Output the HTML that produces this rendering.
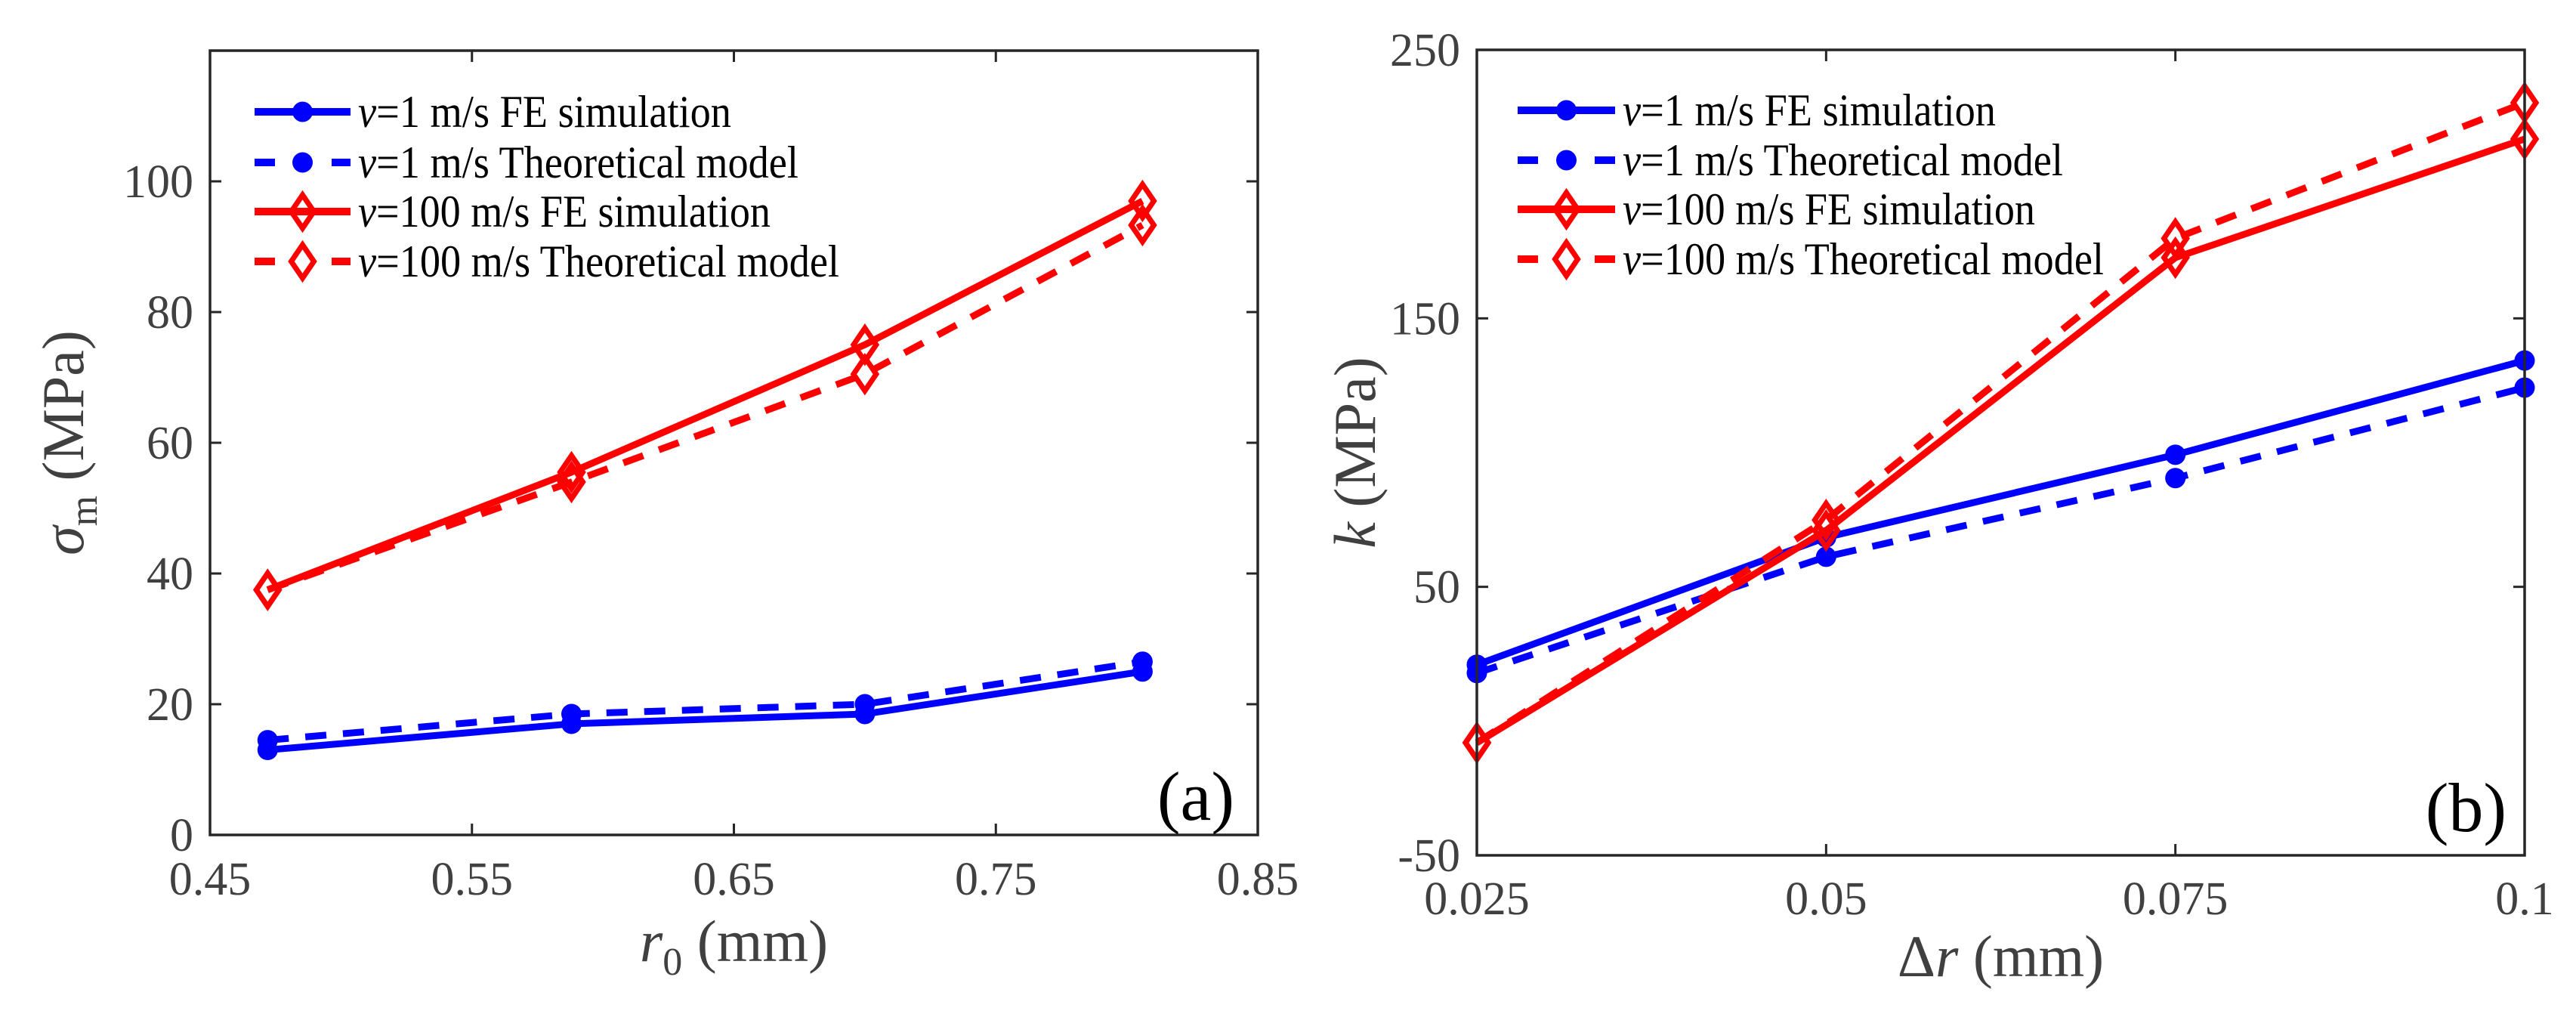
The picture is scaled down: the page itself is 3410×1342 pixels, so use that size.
<!DOCTYPE html>
<html><head><meta charset="utf-8"><style>
html,body{margin:0;padding:0;background:#fff;}
svg{display:block;font-family:"Liberation Serif",serif;}
</style></head><body>
<svg id="fig" width="3410" height="1342" viewBox="0 0 3410 1342" xmlns="http://www.w3.org/2000/svg"></svg>
<script>
// Panel (a) data
const aX = [0.472, 0.588, 0.7, 0.806];
const aBlueFE = [13, 17, 18.5, 25];
const aBlueTh = [14.5, 18.5, 20, 26.5];
const aRedFE = [37.5, 55.5, 75, 97];
const aRedTh = [37.5, 54, 70.5, 93.3];
const aXTicks = [0.45, 0.55, 0.65, 0.75, 0.85];
const aXTickLabels = ["0.45", "0.55", "0.65", "0.75", "0.85"];
const aYTicks = [0, 20, 40, 60, 80, 100];
const aYTickLabels = ["0", "20", "40", "60", "80", "100"];
// Panel (b) data
const bX = [0.025, 0.05, 0.075, 0.1];
const bBlueFE = [21, 68.4, 99.2, 134.3];
const bBlueTh = [17.9, 61.2, 90.5, 124.2];
const bRedFE = [-8.1, 71, 172.6, 216.8];
const bRedTh = [-8, 74.9, 179.8, 230.3];
const bXTicks = [0.025, 0.05, 0.075, 0.1];
const bXTickLabels = ["0.025", "0.05", "0.075", "0.1"];
const bYTicks = [-50, 50, 150, 250];
const bYTickLabels = ["-50", "50", "150", "250"];
const legendLabels = ["=1 m/s FE simulation", "=1 m/s Theoretical model", "=100 m/s FE simulation", "=100 m/s Theoretical model"];
const legendWidths = [494, 583, 546, 637];

const NS = "http://www.w3.org/2000/svg";
const svg = document.getElementById("fig");
function el(tag, attrs, parent) {
  const e = document.createElementNS(NS, tag);
  for (const k in attrs) e.setAttribute(k, attrs[k]);
  (parent || svg).appendChild(e);
  return e;
}

function marker(g, type, cx, cy, color) {
  let m;
  if (type === "circle") {
    m = el("circle", {cx: cx, cy: cy, r: 13.5, fill: color}, g);
  } else {
    m = el("polygon", {points: `${cx},${cy-22} ${cx+15},${cy} ${cx},${cy+22} ${cx-15},${cy}`, fill: "none", stroke: color, "stroke-width": 7}, g);
  }
  return m;
}

function panel(cfg) {
  const {L, R, T, B, xmin, xmax, ymin, ymax, name} = cfg;
  const sx = v => L + (v - xmin) / (xmax - xmin) * (R - L);
  const sy = v => B - (v - ymin) / (ymax - ymin) * (B - T);
  const g = el("g", {});
  
  
  cfg.xTicks.forEach((t, i) => {
    const x = sx(t);
    el("line", {x1: x, y1: B, x2: x, y2: B - 15, stroke: "#262626", "stroke-width": 3}, g);
    el("line", {x1: x, y1: T, x2: x, y2: T + 15, stroke: "#262626", "stroke-width": 3}, g);
    const tx = el("text", {x: x, y: cfg.xLabelY, "font-size": 62, fill: "#404040", "text-anchor": "middle"}, g);
    tx.textContent = cfg.xTickLabels[i];
    
    
  });
  cfg.yTicks.forEach((t, i) => {
    const y = sy(t);
    el("line", {x1: L, y1: y, x2: L + 15, y2: y, stroke: "#262626", "stroke-width": 3}, g);
    el("line", {x1: R, y1: y, x2: R - 15, y2: y, stroke: "#262626", "stroke-width": 3}, g);
    const tx = el("text", {x: L - 22, y: y + 21, "font-size": 62, fill: "#404040", "text-anchor": "end"}, g);
    tx.textContent = cfg.yTickLabels[i];
    
    
  });
  const series = [
    {ys: cfg.blueFE, color: "#0000ff", dash: null, m: "circle", n: "series-v1-fe"},
    {ys: cfg.blueTh, color: "#0000ff", dash: "28 22", m: "circle", n: "series-v1-theory"},
    {ys: cfg.redFE, color: "#ff0000", dash: null, m: "diamond", n: "series-v100-fe"},
    {ys: cfg.redTh, color: "#ff0000", dash: "28 22", m: "diamond", n: "series-v100-theory"}
  ];
  series.forEach(s => {
    const sg = el("g", {}, g);
    
    
    const pts = cfg.xs.map((x, i) => sx(x) + "," + sy(s.ys[i])).join(" ");
    const pl = el("polyline", {points: pts, fill: "none", stroke: s.color, "stroke-width": 9, "stroke-linejoin": "round"}, sg);
    if (s.dash) pl.setAttribute("stroke-dasharray", s.dash);
    cfg.xs.forEach((x, i) => {
      const m = marker(sg, s.m, sx(x), sy(s.ys[i]), s.color);
      
      
    });
  });
  el("rect", {x: L, y: T, width: R - L, height: B - T, fill: "none", stroke: "#262626", "stroke-width": 3.5}, g);
  const lg = el("g", {}, g);
  
  
  series.forEach((s, i) => {
    const y = cfg.legY[i];
    const eg = el("g", {}, lg);
    
    
    const ln = el("line", {x1: cfg.legX1, y1: y, x2: cfg.legX2, y2: y, stroke: s.color, "stroke-width": 10}, eg);
    if (s.dash) ln.setAttribute("stroke-dasharray", "27 75");
    marker(eg, s.m, (cfg.legX1 + cfg.legX2) / 2, y, s.color);
    const t = el("text", {x: cfg.legX2 + 10, y: y + 20, "font-size": 60, fill: "#000", textLength: legendWidths[i], lengthAdjust: "spacingAndGlyphs"}, eg);
    const it = el("tspan", {"font-style": "italic"}, t);
    it.textContent = "v";
    const rest = el("tspan", {}, t);
    rest.textContent = legendLabels[i];
  });
  const pl = el("text", {x: cfg.tagX, y: cfg.tagY, "font-size": 92, fill: "#000", "text-anchor": "end"}, g);
  pl.textContent = cfg.tag;
  
  
  const xt = el("text", {x: (L + R) / 2, y: cfg.xTitleY, "font-size": 78, fill: "#404040", "text-anchor": "middle"}, g);
  xt.innerHTML = cfg.xTitle;
  
  
  const yt = el("text", {x: 0, y: 0, "font-size": 78, fill: "#404040", "text-anchor": "middle", transform: `translate(${cfg.yTitleX},${(T + B) / 2}) rotate(-90)`}, g);
  yt.innerHTML = cfg.yTitle;
  
  
}

panel({name: "panel-a", L: 278, R: 1665, T: 67, B: 1105, xmin: 0.45, xmax: 0.85, ymin: 0, ymax: 120,
  xs: aX, blueFE: aBlueFE, blueTh: aBlueTh, redFE: aRedFE, redTh: aRedTh,
  xTicks: aXTicks, xTickLabels: aXTickLabels, yTicks: aYTicks, yTickLabels: aYTickLabels,
  xLabelY: 1184, legX1: 337, legX2: 464, legY: [148, 215, 280, 346],
  tag: "(a)", tagX: 1634, tagY: 1085,
  xTitle: '<tspan font-style="italic">r</tspan><tspan font-size="52" dy="18">0</tspan><tspan dy="-18"> (mm)</tspan>', xTitleY: 1272,
  yTitle: '<tspan font-style="italic">σ</tspan><tspan font-size="52" dy="18">m</tspan><tspan dy="-18"> (MPa)</tspan>', yTitleX: 110});

panel({name: "panel-b", L: 1955, R: 3342, T: 66, B: 1132, xmin: 0.025, xmax: 0.1, ymin: -50, ymax: 250,
  xs: bX, blueFE: bBlueFE, blueTh: bBlueTh, redFE: bRedFE, redTh: bRedTh,
  xTicks: bXTicks, xTickLabels: bXTickLabels, yTicks: bYTicks, yTickLabels: bYTickLabels,
  xLabelY: 1210, legX1: 2009, legX2: 2138, legY: [146, 212, 277, 343],
  tag: "(b)", tagX: 3318, tagY: 1100,
  xTitle: 'Δ<tspan font-style="italic">r</tspan> (mm)', xTitleY: 1292,
  yTitle: '<tspan font-style="italic">k</tspan> (MPa)', yTitleX: 1820});
</script>
</body></html>
